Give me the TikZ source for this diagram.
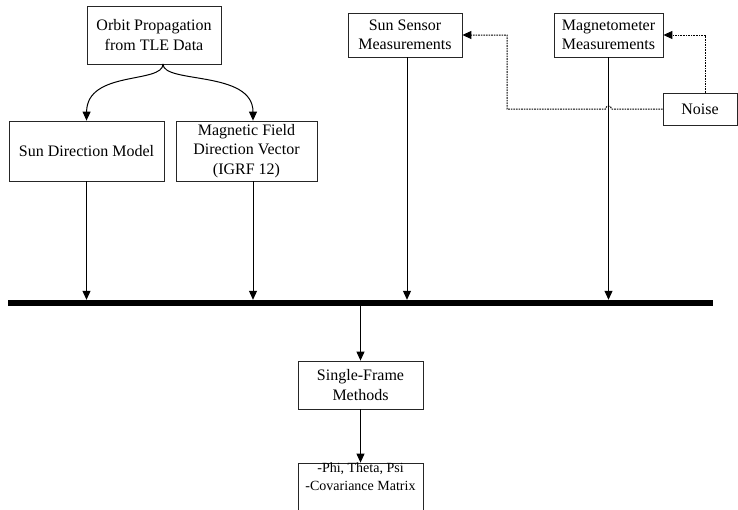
\documentclass[tikz,border=0pt]{standalone}
\usepackage{fontspec}
\setmainfont{Liberation Serif}
\usetikzlibrary{arrows.meta}
\begin{document}
\begin{tikzpicture}
          [x=1pt,y=-1pt,
          font=\fontsize{16}{19.5}\selectfont,
          box/.style={shape=rectangle,draw=black!85,line width=0.8pt,inner sep=0pt,align=center},
          arc/.style={-{Triangle[length=9pt,width=8pt]},line width=1pt},
          noisearc/.style={arc,dash pattern=on 1.6pt off 1pt},
          bar/.style={shape=rectangle,fill=black,inner sep=0pt,minimum height=6pt}]

            \useasboundingbox (0,0) rectangle (738,509);
            \node (orbit) [box,minimum width=134pt,minimum height=58pt] at (154,35) {Orbit Propagation\\from TLE Data};
            \node (sundir) [box,minimum width=155pt,minimum height=60pt] at (86.5,151) {Sun Direction Model};
            \node (magfield) [box,minimum width=141pt,minimum height=60pt] at (246.5,151) {Magnetic Field\\Direction Vector\\(IGRF 12)};
            \node (sunsensor) [box,minimum width=114pt,minimum height=44pt] at (405,35) {Sun Sensor\\Measurements};
            \node (magnetometer) [box,minimum width=109pt,minimum height=44pt] at (608.5,35) {Magnetometer\\Measurements};
            \node (noise) [box,minimum width=74pt,minimum height=32pt] at (700,109) {Noise};
            \node (bus) [bar,minimum width=705pt] at (360.5,303) {};
            \node (single) [box,minimum width=125pt,minimum height=48pt] at (360.5,385) {Single-Frame\\Methods};
            \node (output) [box,minimum width=125pt,minimum height=56pt,font=\fontsize{14}{18}\selectfont] at (360.5,491) {-Phi, Theta, Psi\\-Covariance Matrix\\[10pt]};
            \coordinate (split) at (163,64);
            \coordinate (bend) at (507,109);
            \coordinate (jump) at (611.5,109);

          \draw [arc] (split) .. controls (163,84) and (87,70) .. (sundir.north);
          \draw [arc] (split) .. controls (163,84) and (253,70) .. ([xshift=6.5pt]magfield.north);
          \draw [arc] (sundir.south) -- (sundir.south |- bus.north);
          \draw [arc] ([xshift=6.5pt]magfield.south) -- ([xshift=6.5pt]magfield.south |- bus.north);
          \draw [arc] ([xshift=2pt]sunsensor.south) -- ([xshift=2pt]sunsensor.south |- bus.north);
          \draw [arc] (magnetometer.south) -- (magnetometer.south |- bus.north);
          \draw [noisearc] ([xshift=5pt]noise.north) |- (magnetometer.east);
          \draw [noisearc] (noise.west) -- (jump) arc[start angle=0,end angle=180,radius=3pt] -- (bend) |- (sunsensor.east);
          \draw [arc] (bus.south -| single.north) -- (single.north);
          \draw [arc] (single.south) -- (output.north);

        \end{tikzpicture}
\end{document}
